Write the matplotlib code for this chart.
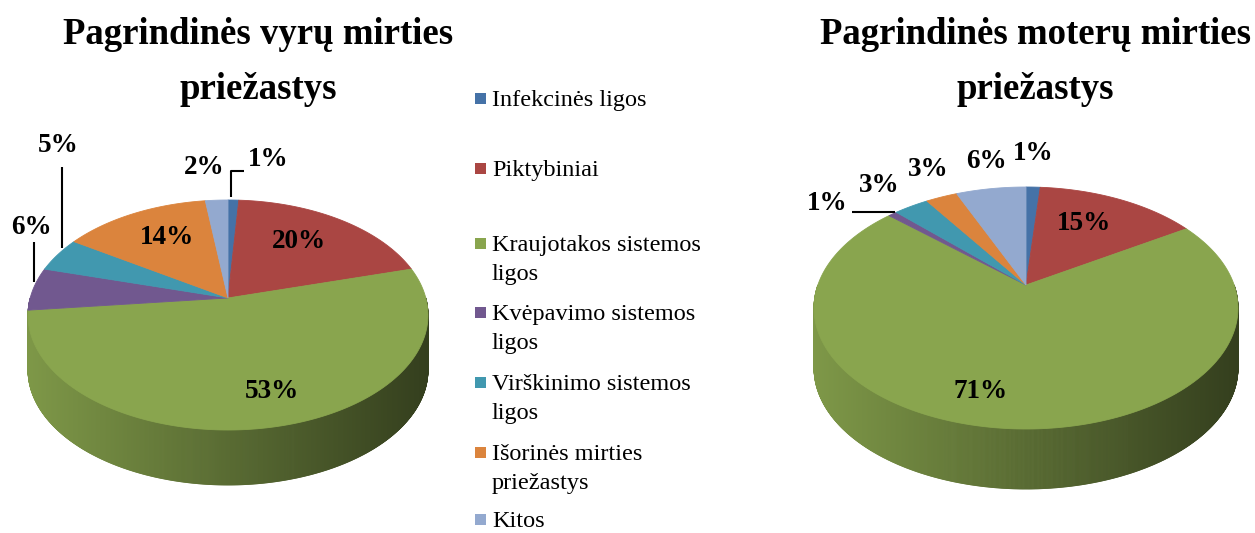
import numpy as np
import matplotlib.pyplot as plt
from matplotlib.collections import PolyCollection
from matplotlib.patches import Polygon, Rectangle
from matplotlib.colors import to_rgb

plt.rcParams['font.family'] = ['Liberation Serif', 'DejaVu Serif']

categories = ['Infekcinės ligos', 'Piktybiniai', 'Kraujotakos sistemos\nligos',
              'Kvėpavimo sistemos\nligos', 'Virškinimo sistemos\nligos',
              'Išorinės mirties\npriežastys', 'Kitos']
men_values = [1.0, 19.7, 52.6, 6.0, 4.8, 13.8, 2.1]
women_values = [1.3, 14.8, 70.6, 0.8, 3.2, 2.9, 6.4]
colors = ['#4572A7', '#AA4643', '#89A54E', '#71588F', '#4198AF', '#DB843D', '#93A9CF']
titles = ['Pagrindinės vyrų mirties\npriežastys', 'Pagrindinės moterų mirties\npriežastys']

# layout in pixels (figure is drawn 1:1 in pixel coords)
pies = [dict(cx=228, cy=315, rx=200, ry=115, k=0.148, depth=55, tx=258),
        dict(cx=1026, cy=308, rx=212, ry=121, k=0.19, depth=60, tx=1035)]
label_pos = [[(268, 160), (299, 241), (272, 391), (31, 227), (58, 146), (167, 238), (204, 167)],
             [(1033, 154), (1084, 223), (981, 391), (827, 203), (879, 186), (928, 170), (986, 162)]]
leaders = [[[(231, 197), (231, 171), (244, 171)], [(62, 248), (62, 167)], [(34, 282), (34, 242)]],
           [[(852, 212), (895, 212)]]]
legend_y = [98, 168, 243, 312, 382, 452, 519]


def proj(p, theta, r=1.0):
    # simple perspective of a unit disc onto the screen ellipse
    k = p['k']
    u = r * np.cos(theta)
    v = r * np.sin(theta)
    x = p['cx'] + p['rx'] * np.sqrt(1 - k * k) * u / (1 + k * v)
    y = p['cy'] - p['ry'] * (1 - k * k) * (v / (1 + k * v) + k / (1 - k * k))
    return x, y


def draw_pie(ax, p, values):
    vals = np.array(values, dtype=float)
    cum = np.concatenate([[0], np.cumsum(vals) / vals.sum()])

    # front wall with left-to-right shading
    th = np.linspace(np.pi, 2 * np.pi, 721)
    xs, ys = proj(p, th)
    xmin, xmax = p['cx'] - p['rx'], p['cx'] + p['rx']
    polys, fcs = [], []
    for j in range(len(th) - 1):
        mid = 0.5 * (th[j] + th[j + 1])
        frac = ((np.pi / 2 - mid) % (2 * np.pi)) / (2 * np.pi)
        idx = min(np.searchsorted(cum, frac, side='right') - 1, len(vals) - 1)
        t = (0.5 * (xs[j] + xs[j + 1]) - xmin) / (xmax - xmin)
        f = 0.92 - 0.54 * t
        c = np.array(to_rgb(colors[idx])) * f
        polys.append([(xs[j], ys[j]), (xs[j + 1], ys[j + 1]),
                      (xs[j + 1], ys[j + 1] + p['depth']), (xs[j], ys[j] + p['depth'])])
        fcs.append(c)
    ax.add_collection(PolyCollection(polys, facecolors=fcs, edgecolors=fcs, linewidths=0.6))

    # top face
    ax0, ay0 = proj(p, 0.0, 0.0)
    for i in range(len(vals)):
        a0 = np.pi / 2 - 2 * np.pi * cum[i]
        a1 = np.pi / 2 - 2 * np.pi * cum[i + 1]
        tt = np.linspace(a0, a1, 200)
        px, py = proj(p, tt)
        pts = [(ax0, ay0)] + list(zip(px, py))
        ax.add_patch(Polygon(pts, closed=True, facecolor=colors[i], edgecolor=colors[i], lw=0.6))


fig = plt.figure(figsize=(12.55, 5.33), dpi=100)
ax = fig.add_axes([0, 0, 1, 1])
ax.set_xlim(0, 1255)
ax.set_ylim(533, 0)
ax.axis('off')

for n, values in enumerate([men_values, women_values]):
    p = pies[n]
    draw_pie(ax, p, values)
    ax.text(p['tx'], 62, titles[n], ha='center', va='center', fontsize=26.5,
            fontweight='bold', linespacing=1.75)
    for v, (x, y) in zip(values, label_pos[n]):
        ax.text(x, y, '%d%%' % round(v), ha='center', va='center', fontsize=19.5, fontweight='bold')
    for line in leaders[n]:
        lx, ly = zip(*line)
        ax.plot(lx, ly, color='black', lw=1.5, solid_capstyle='butt')

# legend
for i, name in enumerate(categories):
    y = legend_y[i]
    ax.add_patch(Rectangle((475, y - 5.5), 11, 11, facecolor=colors[i], edgecolor='none'))
    ax.text(492, y - 8, name, ha='left', va='top', fontsize=17.5, linespacing=1.5)

fig.savefig('out.png', dpi=100)
